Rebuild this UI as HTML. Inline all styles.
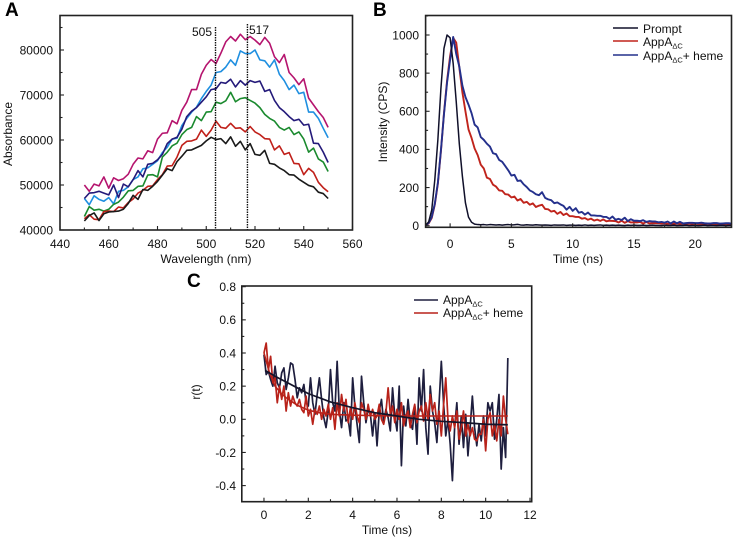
<!DOCTYPE html>
<html>
<head>
<meta charset="utf-8">
<title>AppA spectra and fluorescence decay</title>
<style>
html,body{margin:0;padding:0;background:#fff;width:734px;height:541px;overflow:hidden}
svg{display:block;filter:blur(0.35px)}
text{font-family:"Liberation Sans",sans-serif;font-size:12px;fill:#111}
.panel{font-size:19px;font-weight:bold;fill:#000}
.sub{font-size:7.5px}
</style>
</head>
<body>
<svg id="fig" xmlns="http://www.w3.org/2000/svg" width="734" height="541" viewBox="0 0 734 541">
  <text class="panel" x="5" y="16">A</text>
  <text class="panel" x="373" y="16">B</text>
  <text class="panel" x="187" y="287">C</text>

  <text x="206" y="263" text-anchor="middle">Wavelength (nm)</text>
  <text transform="translate(12,134) rotate(-90)" text-anchor="middle">Absorbance</text>
  <text x="578" y="263" text-anchor="middle">Time (ns)</text>
  <text transform="translate(387,122) rotate(-90)" text-anchor="middle">Intensity (CPS)</text>
  <text x="387" y="534" text-anchor="middle">Time (ns)</text>
  <text transform="translate(200,392) rotate(-90)" text-anchor="middle">r(t)</text>

  <text x="212" y="36" text-anchor="end">505</text>
  <text x="249" y="34">517</text>

  <g>
    <line x1="613" x2="638" y1="28" y2="28" stroke="#10102a" stroke-width="1.6"/>
    <text x="643" y="33">Prompt</text>
    <line x1="613" x2="638" y1="41" y2="41" stroke="#c0241c" stroke-width="1.6"/>
    <text x="643" y="46">AppA<tspan class="sub" dy="2.5">ΔC</tspan></text>
    <line x1="613" x2="638" y1="55" y2="55" stroke="#24308c" stroke-width="1.6"/>
    <text x="643" y="60">AppA<tspan class="sub" dy="2.5">ΔC</tspan><tspan dy="-2.5">+ heme</tspan></text>
  </g>
  <g>
    <line x1="414" x2="438" y1="300" y2="300" stroke="#1e1e3e" stroke-width="1.6"/>
    <text x="443" y="304">AppA<tspan class="sub" dy="2.5">ΔC</tspan></text>
    <line x1="414" x2="438" y1="313" y2="313" stroke="#b8221a" stroke-width="1.6"/>
    <text x="443" y="317">AppA<tspan class="sub" dy="2.5">ΔC</tspan><tspan dy="-2.5">+ heme</tspan></text>
  </g>
</svg>
<script>
/* Panel A data: wavelength (nm), absorbance in thousands */
const aWavelengths = [450,452,454,456,458,460,462,464,466,468,470,472,474,476,478,480,482,484,486,488,490,492,494,496,498,500,502,504,506,508,510,512,514,516,518,520,522,524,526,528,530,532,534,536,538,540,542,544,546,548,550];
const aMagenta = [50,48.6,50.2,49.8,51.8,49.3,51.6,51,51.4,52.4,54.6,56,55.8,57.6,57.2,60.2,61.5,61.6,64.3,63.6,66.6,68.4,71.2,71.2,74.6,76.6,77.9,77,79.3,81.8,83,82,83.5,82.3,83,82.2,81.2,82.8,81.5,78.5,77.2,79,75,73.8,72.3,73.6,69.3,67.8,66.3,65,62.8];
const aSkyBlue = [47,45.6,47.6,46.8,46.4,47.2,45.8,48.6,48.8,49.6,51.2,51.8,53.6,53.8,54.6,55.4,57.2,58.4,60.2,60.4,63.2,64.8,66.2,67.3,69.2,70.8,72.2,75,75.2,76.2,77.8,76.6,79.8,79.2,79.2,80,77.8,77.6,76.2,77.8,74.6,73.2,71.2,72.2,70.3,70.6,66.2,66.2,64.8,62.6,60.5];
const aNavy = [47,48.2,48.3,48.6,48.2,47.8,50,47.2,50.2,49.6,51.2,53.2,51.8,54.6,54.8,55.6,56.8,59.2,60.2,60.6,62.4,65.2,66.4,67.2,68.4,69.6,71.2,71.4,72.8,72.6,73.5,71.8,73.2,72.2,73.2,72.8,73.1,70.8,71.2,68.8,67.2,66.3,65.2,64.3,64.6,63.3,63.5,59.3,59.2,57.3,55];
const aGreen = [43,45.2,44.4,44.6,44.2,44.6,45.7,46.2,47.3,48.7,48.8,49.7,49.8,52.2,52.3,51.8,56.2,57.3,58.7,59.3,61.2,62.3,62.8,65.2,64.3,66.2,66.3,68.4,68.1,68.7,70.6,68.5,69.2,69.4,68.8,68.2,67.2,65.7,64.8,64.2,62.8,62.2,62.8,61.2,61.8,60.2,57.3,58.2,55.8,55.1,53];
const aRed = [42.5,43.4,42.4,42.3,44.1,44.2,44.1,45.1,44.9,46.1,46.9,48.2,48.8,49.7,49.8,51.2,52.3,54.2,54.3,56.2,58.8,59.7,59.8,60.2,62.2,60.8,62.2,64.2,62.8,62.6,63.7,62.6,62.7,61.8,63,61.8,61.2,60.3,60.2,57.8,58.7,56.8,57.2,54.8,54.7,52.3,53.7,52.8,50.6,49.4,48.5];
const aBlack = [42,43.2,43.8,42.1,43.6,44,44.1,44.2,44.6,45.9,47.7,46.8,49,48.8,49.7,50.8,52.2,53.6,53.2,55.2,56.4,57.7,57.8,58.3,58.8,59.8,60.6,60.1,60.3,59.2,60.7,58.6,59.7,57.8,59.2,56.8,56.6,57.7,54.8,54.6,53.8,53.2,52.3,52.2,51.3,50.6,49.9,49.6,48.4,48.1,47];
const aMarkers = [503.8,516.9];
const aXTicks = [440,460,480,500,520,540,560];
const aYTicks = [40000,50000,60000,70000,80000];

/* Panel B data: time (ns), intensity (CPS) */
const bTimes = [-2,-1.75,-1.5,-1.25,-1,-0.75,-0.5,-0.25,0,0.25,0.5,0.75,1,1.25,1.5,1.75,2,2.25,2.5,2.75,3,3.25,3.5,3.75,4,4.25,4.5,4.75,5,5.25,5.5,5.75,6,6.25,6.5,6.75,7,7.25,7.5,7.75,8,8.25,8.5,8.75,9,9.25,9.5,9.75,10,10.25,10.5,10.75,11,11.25,11.5,11.75,12,12.25,12.5,12.75,13,13.25,13.5,13.75,14,14.25,14.5,14.75,15,15.25,15.5,15.75,16,16.25,16.5,16.75,17,17.25,17.5,17.75,18,18.25,18.5,18.75,19,19.25,19.5,19.75,20,20.25,20.5,20.75,21,21.25,21.5,21.75,22,22.25,22.5,22.75,23];
const bPrompt = [2,20,82,240,450,720,930,1000,985,850,650,430,260,120,45,18,8,6,5,6,4,6,5,4,5,3,5,6,4,5,7,4,3,5,4,3,5,4,3,4,3,2,4,3,3,4,2,3,3,2,3,2,4,2,3,2,3,4,2,3,2,3,2,3,2,1,3,2,3,2,2,3,1,2,3,2,2,1,3,2,2,3,1,2,2,3,1,2,2,1,2,3,1,2,2,1,2,2,1,2,2];
const bAppa = [2,12,40,110,220,390,590,760,890,985,960,830,700,600,505,460,405,370,320,300,252,245,215,205,185,183,165,163,148,153,132,140,120,125,110,117,98,105,110,88,86,74,78,62,72,56,64,50,50,46,46,37,40,31,37,27,32,25,33,23,26,25,24,17,26,15,24,17,18,17,20,11,20,12,14,13,14,11,13,10,12,11,12,9,11,9,11,8,11,9,10,7,10,8,10,7,9,6,10,7,9];
const bHeme = [2,14,45,115,225,395,585,750,870,990,900,835,735,675,635,590,530,515,465,450,430,415,380,375,345,335,313,290,263,267,235,237,217,203,185,177,165,160,176,146,138,134,118,122,112,104,84,99,78,92,68,72,58,69,54,54,52,52,46,46,36,48,31,36,30,42,24,34,26,26,24,29,20,24,22,22,18,20,16,22,12,22,13,20,12,14,15,15,14,14,16,13,12,12,14,14,11,12,13,13,10];
const bXTicks = [0,5,10,15,20];
const bYTicks = [0,200,400,600,800,1000];

/* Panel C data: time (ns), anisotropy */
const cTimes = [0,0.1,0.2,0.3,0.4,0.5,0.6,0.7,0.8,0.9,1,1.1,1.2,1.3,1.4,1.5,1.6,1.7,1.8,1.9,2,2.1,2.2,2.3,2.4,2.5,2.6,2.7,2.8,2.9,3,3.1,3.2,3.3,3.4,3.5,3.6,3.7,3.8,3.9,4,4.1,4.2,4.3,4.4,4.5,4.6,4.7,4.8,4.9,5,5.1,5.2,5.3,5.4,5.5,5.6,5.7,5.8,5.9,6,6.1,6.2,6.3,6.4,6.5,6.6,6.7,6.8,6.9,7,7.1,7.2,7.3,7.4,7.5,7.6,7.7,7.8,7.9,8,8.1,8.2,8.3,8.4,8.5,8.6,8.7,8.8,8.9,9,9.1,9.2,9.3,9.4,9.5,9.6,9.7,9.8,9.9,10,10.1,10.2,10.3,10.4,10.5,10.6,10.7,10.8,10.9,11];
const cAppa = [0.39,0.27,0.29,0.24,0.2,0.32,0.22,0.19,0.28,0.31,0.18,0.25,0.34,0.33,0.24,0.13,0.19,0.16,0.21,0.1,0.08,0.25,0.1,0.03,0.15,0.25,0.12,0.01,-0.05,0.05,0.3,0.1,0.05,0.35,0.05,-0.05,0.1,-0.01,0,-0.1,0.25,0.08,-0.03,-0.14,0.26,0.1,-0.02,0.06,0.03,-0.1,0.04,-0.16,0.05,0.12,-0.02,0.06,0.01,-0.07,0.19,0.02,-0.07,0.2,-0.28,0.08,-0.04,0.12,-0.02,-0.06,0.08,-0.15,0.25,0.05,0.3,-0.05,-0.21,0.2,0.05,-0.02,-0.14,0.1,0.35,0.1,-0.1,0,-0.15,-0.37,-0.05,0.1,-0.15,0.02,-0.17,0.03,-0.22,-0.05,0.14,-0.05,-0.16,-0.03,-0.13,0.02,-0.1,0.1,0.05,0.1,-0.12,0,0.15,-0.3,-0.05,-0.23,0.37];
const cHeme = [0.4,0.46,0.3,0.38,0.22,0.25,0.1,0.2,0.12,0.2,0.05,0.16,0.08,0.14,0.1,0.08,0.12,0.06,0.04,0.14,0.02,0.06,-0.03,0.06,0.03,0.08,0,0.06,0.02,0.09,0,0.07,-0.06,0.1,0.02,0.15,0.05,0.12,-0.02,0.07,0,0.1,0.02,-0.02,0.1,0.06,0,0.09,0.02,0.06,0,0.02,0.09,0,-0.03,0.04,0.19,0.03,0.08,-0.02,0.06,0,0.1,-0.04,0.02,0.05,-0.05,0.03,0.09,-0.02,0.05,0.08,-0.01,0.1,0,0.15,0.05,0.1,-0.03,0.05,-0.1,0.08,0.25,0,-0.07,0.02,-0.05,0.05,-0.12,-0.05,0.05,-0.1,-0.03,-0.1,-0.05,-0.12,-0.13,-0.09,-0.09,0,-0.19,0,0.04,-0.1,-0.03,-0.13,0,-0.1,0.14,0,-0.09];
const cFitAppaT = [0.05,0.5,1,1.5,2,3,4,5,6,7,8,9,10,11];
const cFitAppaV = [0.295,0.26,0.225,0.19,0.155,0.105,0.07,0.04,0.02,0,-0.012,-0.02,-0.03,-0.033];
const cFitHemeT = [0,0.25,0.5,0.75,1,1.5,2,2.5,3,4,6,8,11];
const cFitHemeV = [0.4,0.28,0.2,0.16,0.13,0.085,0.055,0.04,0.03,0.025,0.02,0.02,0.02];
const cXTicks = [0,2,4,6,8,10,12];
const cYTicks = [-0.4,-0.2,0,0.2,0.4,0.6,0.8];

const NS = 'http://www.w3.org/2000/svg';
const fig = document.getElementById('fig');

function make(tag, attrs) {
  const el = document.createElementNS(NS, tag);
  for (const k in attrs) el.setAttribute(k, attrs[k]);
  fig.appendChild(el);
  return el;
}
function linear(d0, d1, r0, r1) {
  return v => r0 + (v - d0) * (r1 - r0) / (d1 - d0);
}
function series(xs, ys, sx, sy, color, width, name) {
  const n = Math.min(xs.length, ys.length);
  let d = '';
  for (let i = 0; i < n; i++) d += (i ? 'L' : 'M') + sx(xs[i]).toFixed(2) + ' ' + sy(ys[i]).toFixed(2);
  const el = make('path', {d: d, fill: 'none', stroke: color, 'stroke-width': width, 'stroke-linejoin': 'round'});
  
  
  return el;
}
function frame(x0, x1, y0, y1, name) {
  const el = make('rect', {x: x0, y: y0, width: x1 - x0, height: y1 - y0, fill: 'none', stroke: '#222', 'stroke-width': 1.6});
  
  
}
function xTick(px, y1, len, label, labelY, name) {
  const el = make('line', {x1: px, x2: px, y1: y1, y2: y1 - len, stroke: '#222', 'stroke-width': 1.1});
  
  
  if (label !== null) {
    const t = make('text', {x: px, y: labelY, 'text-anchor': 'middle'});
    t.textContent = label;
    
    
  }
}
function yTick(py, x0, len, label, labelX, name) {
  const el = make('line', {x1: x0, x2: x0 + len, y1: py, y2: py, stroke: '#222', 'stroke-width': 1.1});
  
  
  if (label !== null) {
    const t = make('text', {x: labelX, y: py + 4.3, 'text-anchor': 'end'});
    t.textContent = label;
    
    
  }
}

/* Panel A */
const ax = linear(440, 560, 60, 352.5);
const ay = linear(40, 80, 230, 50);
series(aWavelengths, aMagenta, ax, ay, '#b5146e', 1.6, 'series-a-magenta');
series(aWavelengths, aSkyBlue, ax, ay, '#1f8fe0', 1.6, 'series-a-sky-blue');
series(aWavelengths, aNavy, ax, ay, '#241a7a', 1.6, 'series-a-navy');
series(aWavelengths, aGreen, ax, ay, '#1a8a2e', 1.6, 'series-a-green');
series(aWavelengths, aRed, ax, ay, '#c0201a', 1.6, 'series-a-red');
series(aWavelengths, aBlack, ax, ay, '#1a1a1a', 1.6, 'series-a-black');
aMarkers.forEach((w, i) => {
  const m = make('line', {x1: ax(w), x2: ax(w), y1: i ? 24 : 27, y2: 230, stroke: '#111', 'stroke-width': 1.4, 'stroke-dasharray': '1.5 1'});
  
  
});
frame(60, 352.5, 15.5, 230, 'a-plot-frame');
aXTicks.forEach((v, i) => {
  xTick(ax(v), 230, 4, String(v), 248, 'a-x-tick');
  if (i < aXTicks.length - 1) xTick(ax(v + 10), 230, 2.5, null, 0, 'a-x-minor-tick');
});
aYTicks.forEach(v => {
  yTick(ay(v / 1000), 60, 4, String(v), 53, 'a-y-tick');
  yTick(ay(v / 1000 + 5), 60, 2.5, null, 0, 'a-y-minor-tick');
});

/* Panel B */
const bx = linear(-2, 23, 425.6, 732);
const by = linear(0, 1000, 225.7, 35);
series(bTimes, bAppa, bx, by, '#c0241c', 1.9, 'series-b-appa');
series(bTimes, bHeme, bx, by, '#24308c', 1.9, 'series-b-appa-heme');
series(bTimes, bPrompt, bx, by, '#10102a', 1.5, 'series-b-prompt');
frame(425.6, 731.5, 15.5, 227.3, 'b-plot-frame');
bXTicks.forEach(v => {
  xTick(bx(v), 227.3, 4, String(v), 248, 'b-x-tick');
  xTick(bx(v + 2.5), 227.3, 2.5, null, 0, 'b-x-minor-tick');
});
bYTicks.forEach(v => {
  yTick(by(v), 425.6, 4, String(v), 419, 'b-y-tick');
  yTick(by(v + 100), 425.6, 2.5, null, 0, 'b-y-minor-tick');
});

/* Panel C */
const cx = linear(-1, 12, 241.8, 530);
const cy = linear(0, 0.8, 419.3, 286.7);
series(cTimes, cAppa, cx, cy, '#1e1e3e', 1.7, 'series-c-appa');
series(cTimes, cHeme, cx, cy, '#b8221a', 1.7, 'series-c-appa-heme');
series(cFitHemeT, cFitHemeV, cx, cy, '#b8221a', 1.6, 'fit-c-appa-heme');
series(cFitAppaT, cFitAppaV, cx, cy, '#14142a', 1.7, 'fit-c-appa');
frame(241.8, 531.7, 286, 501.7, 'c-plot-frame');
cXTicks.forEach((v, i) => {
  xTick(cx(v), 501.7, 4, String(v), 519, 'c-x-tick');
  if (i < cXTicks.length - 1) xTick(cx(v + 1), 501.7, 2.5, null, 0, 'c-x-minor-tick');
});
xTick(cx(-1), 501.7, 2.5, null, 0, 'c-x-minor-tick');
cYTicks.forEach((v, i) => {
  yTick(cy(v), 241.8, 4, v.toFixed(1), 236, 'c-y-tick');
  if (i < cYTicks.length - 1) yTick(cy(v + 0.1), 241.8, 2.5, null, 0, 'c-y-minor-tick');
});
</script>
</body>
</html>
